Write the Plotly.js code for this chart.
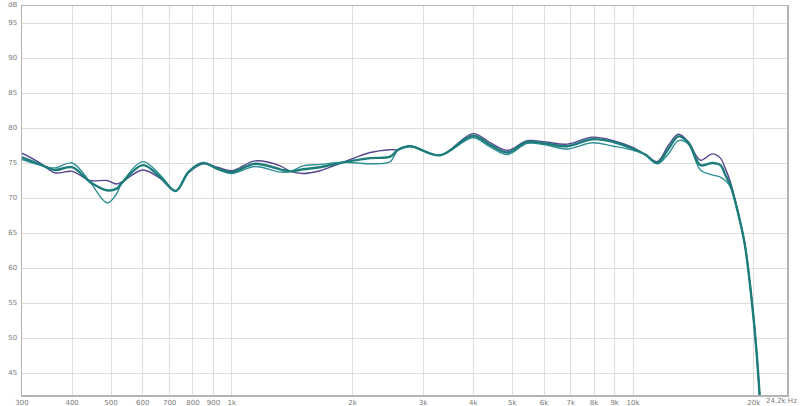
<!DOCTYPE html>
<html>
<head>
<meta charset="utf-8">
<script src="https://cdn.plot.ly/plotly-3.0.1.min.js"></script>
<style>html,body{margin:0;padding:0;background:#fff;}#chart{width:800px;height:406px;}</style>
</head>
<body>
<div id="chart"></div>
<script>
const freqHz = [300, 333, 362, 400, 443, 489, 515, 533, 600, 663, 725, 780, 848, 920, 1000, 1143, 1320, 1400, 1506, 1660, 1895, 2212, 2483, 2598, 2784, 3308, 3990, 4407, 4860, 5450, 6045, 6860, 7918, 8930, 10020, 10734, 11500, 12250, 12975, 13740, 14724, 15770, 16513, 16990, 17490, 18200, 19000, 19800, 20300, 20700];

const seriesPurple = [76.4, 75.0, 73.6, 73.8, 72.5, 72.5, 72.0, 72.3, 74.0, 72.8, 71.0, 73.6, 74.9, 74.4, 73.9, 75.3, 74.6, 73.8, 73.5, 73.9, 75.1, 76.5, 76.9, 76.9, 77.4, 76.1, 79.2, 77.9, 76.8, 78.2, 78.0, 77.7, 78.7, 78.2, 77.2, 76.2, 75.2, 77.5, 79.1, 78.0, 75.4, 76.3, 75.7, 74.2, 72.3, 68.4, 63.4, 55.1, 48.4, 41.5];

const seriesTealThin = [75.5, 74.7, 74.3, 75.0, 72.3, 69.3, 70.5, 72.2, 75.2, 73.3, 71.0, 73.8, 75.0, 74.1, 73.5, 74.5, 73.7, 73.8, 74.6, 74.8, 75.1, 74.9, 75.2, 76.9, 77.4, 76.1, 78.6, 77.3, 76.2, 77.8, 77.6, 77.0, 77.9, 77.4, 76.8, 76.2, 74.9, 76.3, 78.2, 77.7, 74.0, 73.3, 73.0, 72.5, 71.6, 68.2, 63.3, 55.0, 48.3, 41.5];

const seriesTealThick = [75.8, 74.8, 74.0, 74.4, 72.3, 71.1, 71.3, 72.2, 74.7, 73.0, 71.0, 73.7, 75.0, 74.2, 73.7, 74.9, 74.1, 73.8, 74.1, 74.4, 75.1, 75.7, 75.9, 76.9, 77.4, 76.1, 78.9, 77.6, 76.5, 78.0, 77.8, 77.4, 78.4, 78.0, 77.0, 76.2, 75.0, 77.0, 78.8, 77.9, 74.7, 75.0, 74.7, 73.3, 71.8, 68.3, 63.3, 55.0, 48.3, 41.5];

const xTickVals = [300, 400, 500, 600, 700, 800, 900, 1000, 2000, 3000, 4000, 5000, 6000, 7000, 8000, 9000, 10000, 20000];
const xTickText = ['300', '400', '500', '600', '700', '800', '900', '1k', '2k', '3k', '4k', '5k', '6k', '7k', '8k', '9k', '10k', '20k'];
const yTickVals = [45, 50, 55, 60, 65, 70, 75, 80, 85, 90, 95];
const xMax = 24200;

const traces = [
  {x: freqHz, y: seriesPurple, mode: 'lines', line: {color: '#54478f', width: 1.4, shape: 'spline', smoothing: 1}, hoverinfo: 'skip'},
  {x: freqHz, y: seriesTealThin, mode: 'lines', line: {color: '#2f8f96', width: 1.4, shape: 'spline', smoothing: 1}, hoverinfo: 'skip'},
  {x: freqHz, y: seriesTealThick, mode: 'lines', line: {color: '#1c7d7b', width: 2.4, shape: 'spline', smoothing: 1}, hoverinfo: 'skip'}
];

const tickFont = {family: 'DejaVu Sans, sans-serif', size: 7, color: '#7a7a7a'};

const layout = {
  width: 800, height: 406,
  margin: {l: 22, r: 13, t: 6, b: 11, pad: 0},
  paper_bgcolor: '#ffffff', plot_bgcolor: '#ffffff',
  showlegend: false,
  xaxis: {
    type: 'log', range: [Math.log10(300), Math.log10(xMax)],
    tickvals: xTickVals, ticktext: xTickText, tickfont: tickFont,
    showgrid: true, gridcolor: '#dedede', gridwidth: 1,
    showline: true, linecolor: '#b4b4b4', linewidth: 1.5, mirror: true,
    ticks: '', zeroline: false, fixedrange: true, ticklabelstandoff: 0
  },
  yaxis: {
    range: [41.86, 97.43],
    tickvals: yTickVals, tickfont: tickFont,
    showgrid: true, gridcolor: '#dedede', gridwidth: 1,
    showline: true, linecolor: '#b4b4b4', linewidth: 1.5, mirror: true,
    ticks: '', zeroline: false, fixedrange: true, ticklabelstandoff: 2
  },
  shapes: [
    {type: 'line', xref: 'x', yref: 'paper', x0: Math.log10(1000), x1: Math.log10(1000), y0: 0, y1: 1, line: {color: '#b8b8b8', width: 1.2}, layer: 'below'},
    {type: 'line', xref: 'x', yref: 'paper', x0: Math.log10(10000), x1: Math.log10(10000), y0: 0, y1: 1, line: {color: '#b8b8b8', width: 1.2}, layer: 'below'}
  ],
  annotations: [
    {text: 'dB', xref: 'paper', yref: 'paper', x: 0, y: 1, xanchor: 'right', yanchor: 'bottom', xshift: -3, yshift: -5, showarrow: false, font: tickFont},
    {text: '24,2k Hz', xref: 'paper', yref: 'paper', x: 1, y: 0, xanchor: 'right', yanchor: 'top', xshift: 12, yshift: 0, showarrow: false, font: tickFont}
  ]
};

Plotly.newPlot('chart', traces, layout, {staticPlot: true, displayModeBar: false});
</script>
</body>
</html>
